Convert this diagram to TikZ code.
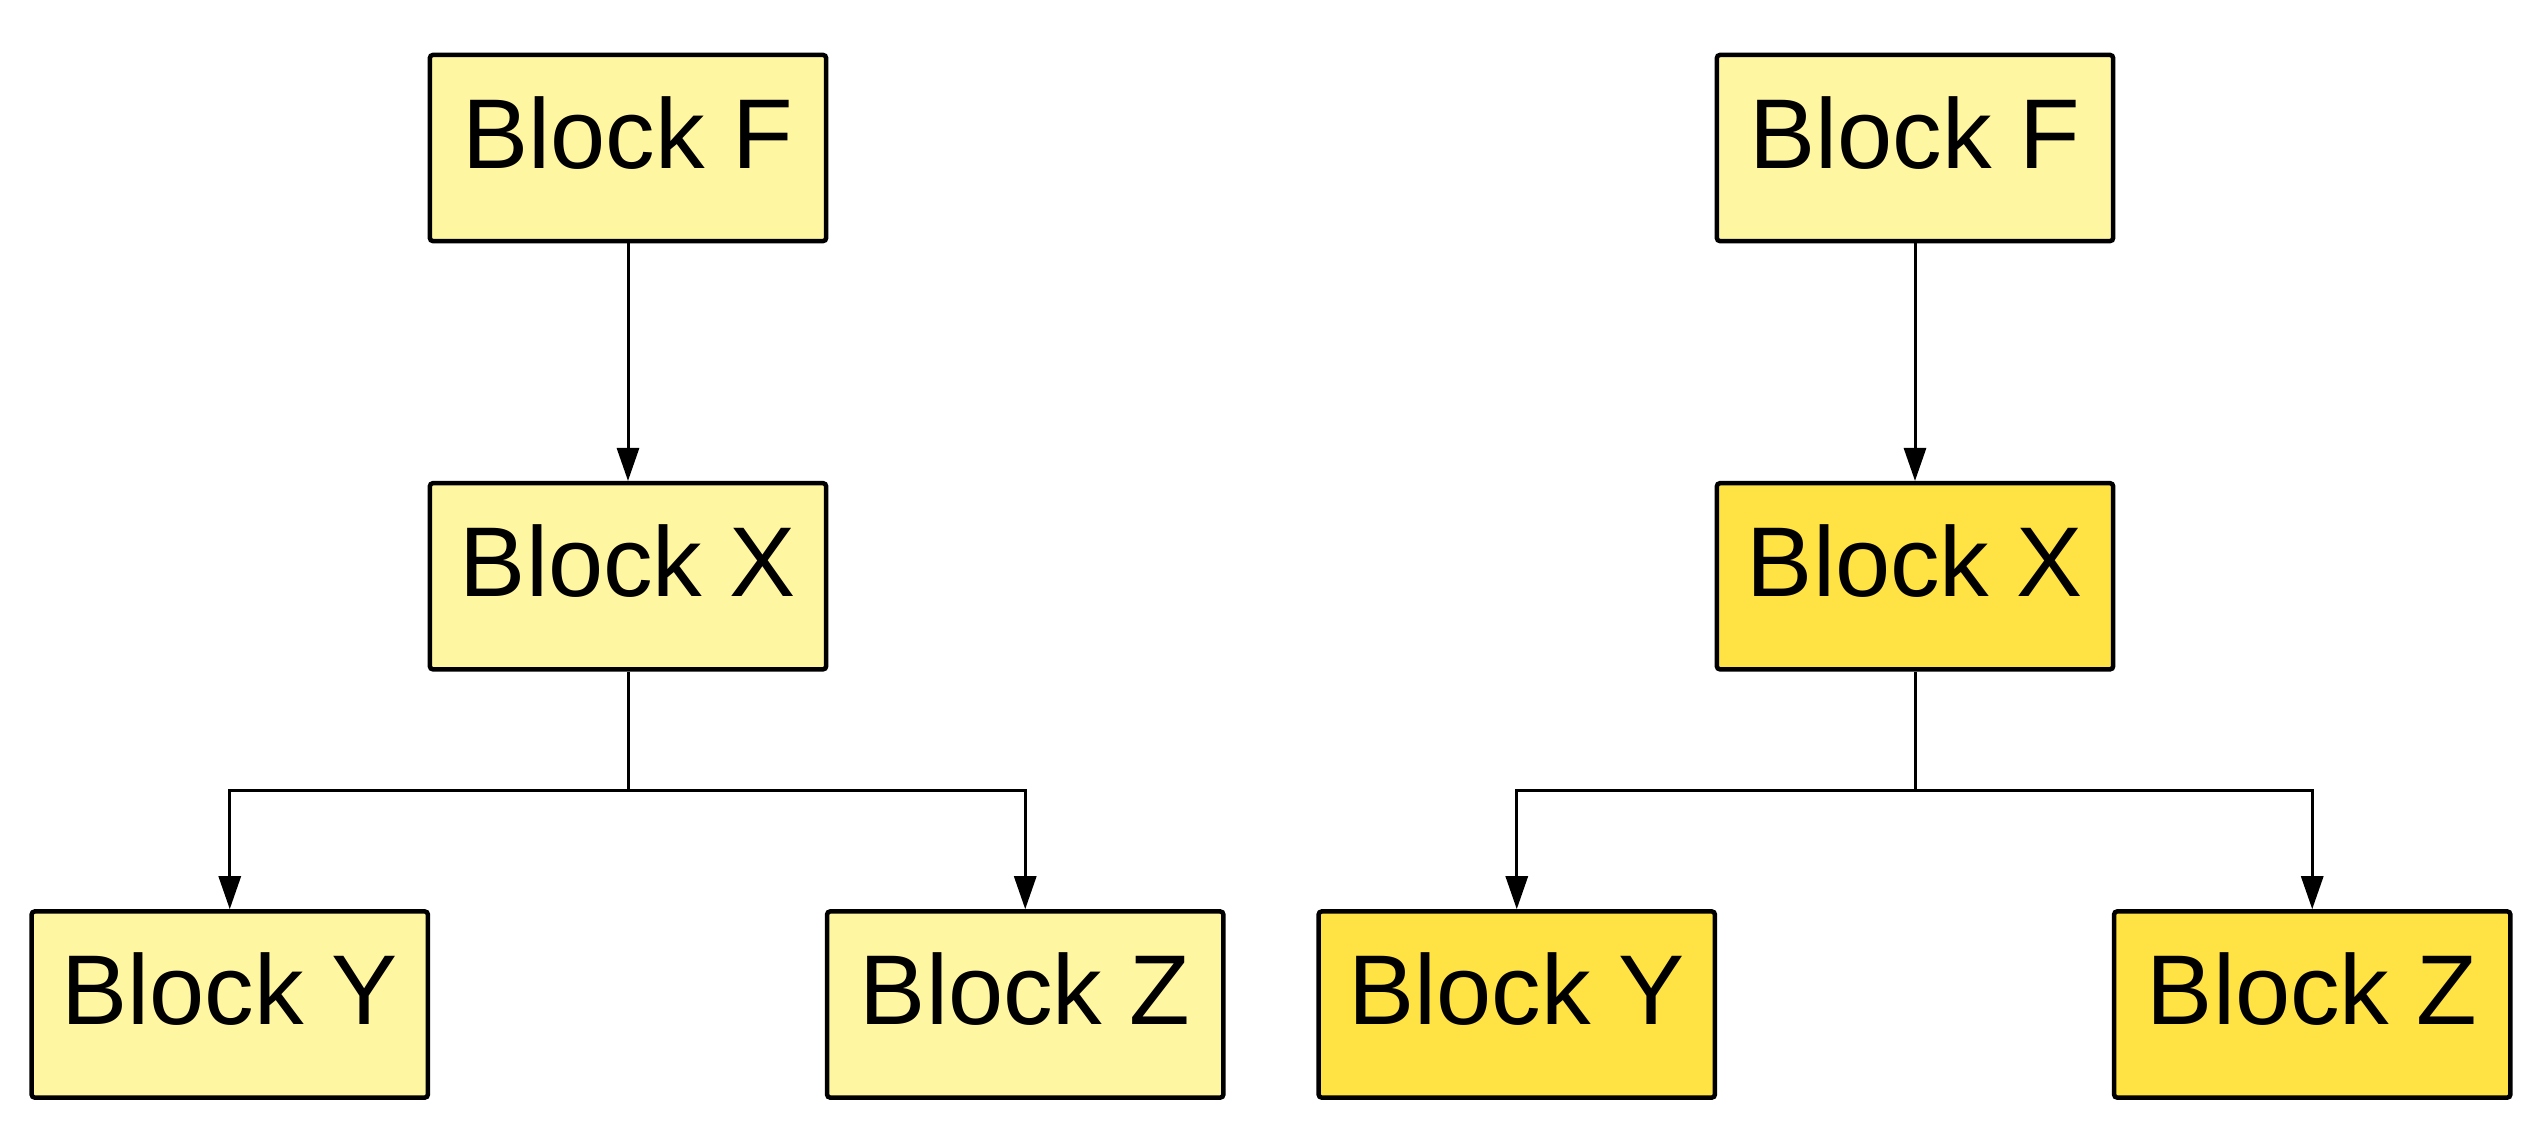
\documentclass[tikz,border=0pt]{standalone}
\usepackage{fontspec}
\setmainfont{Liberation Sans}
\usepackage{tikz}
\usetikzlibrary{calc}
\usetikzlibrary{positioning}
\usetikzlibrary{arrows.meta}
\definecolor{paleyellow}{HTML}{FFF6A1}
\definecolor{deepyellow}{HTML}{FFE243}
\tikzstyle{arrow}= [line width=0.03cm, -{Triangle[length=0.33cm,width=0.22cm]}]

\begin{document}
\begin{tikzpicture}[
		x=0.01cm, y=-0.01cm,
		node distance=4.28cm,
    block/.style={
    draw, line width=0.045cm, rounded corners=0.03cm,
    minimum width=3.96cm, inner sep=0pt,
    text height=1.13cm, text depth=0.73cm,
    font=\fontsize{28.2}{34}\selectfont
    }
	]
  \useasboundingbox (0,0) rectangle (2541,1138);

  % left tree
  \node[block,fill=paleyellow] (fL) at (628,148) {Block F};
  \node[block,fill=paleyellow,below of=fL] (xL) {Block X};
  \node[block,fill=paleyellow,below of=xL,xshift=-3.98cm] (yL) {Block Y};
  \node[block,fill=paleyellow,below of=xL,xshift=3.97cm] (zL) {Block Z};
  \coordinate (bL) at ($(xL.south)!.5!(xL.south |- yL.north)$);
  \draw[arrow] (fL) -- (xL);
  \draw[arrow] (xL.south) -- (bL) -| (yL.north);
  \draw[arrow] (bL) -| (zL.north);

  % right tree
  \node[block,fill=paleyellow] (fR) at (1915,148) {Block F};
  \node[block,fill=deepyellow,below of=fR] (xR) {Block X};
  \node[block,fill=deepyellow,below of=xR,xshift=-3.98cm] (yR) {Block Y};
  \node[block,fill=deepyellow,below of=xR,xshift=3.97cm] (zR) {Block Z};
  \coordinate (bR) at ($(xR.south)!.5!(xR.south |- yR.north)$);
  \draw[arrow] (fR) -- (xR);
  \draw[arrow] (xR.south) -- (bR) -| (yR.north);
  \draw[arrow] (bR) -| (zR.north);
\end{tikzpicture}
\end{document}
